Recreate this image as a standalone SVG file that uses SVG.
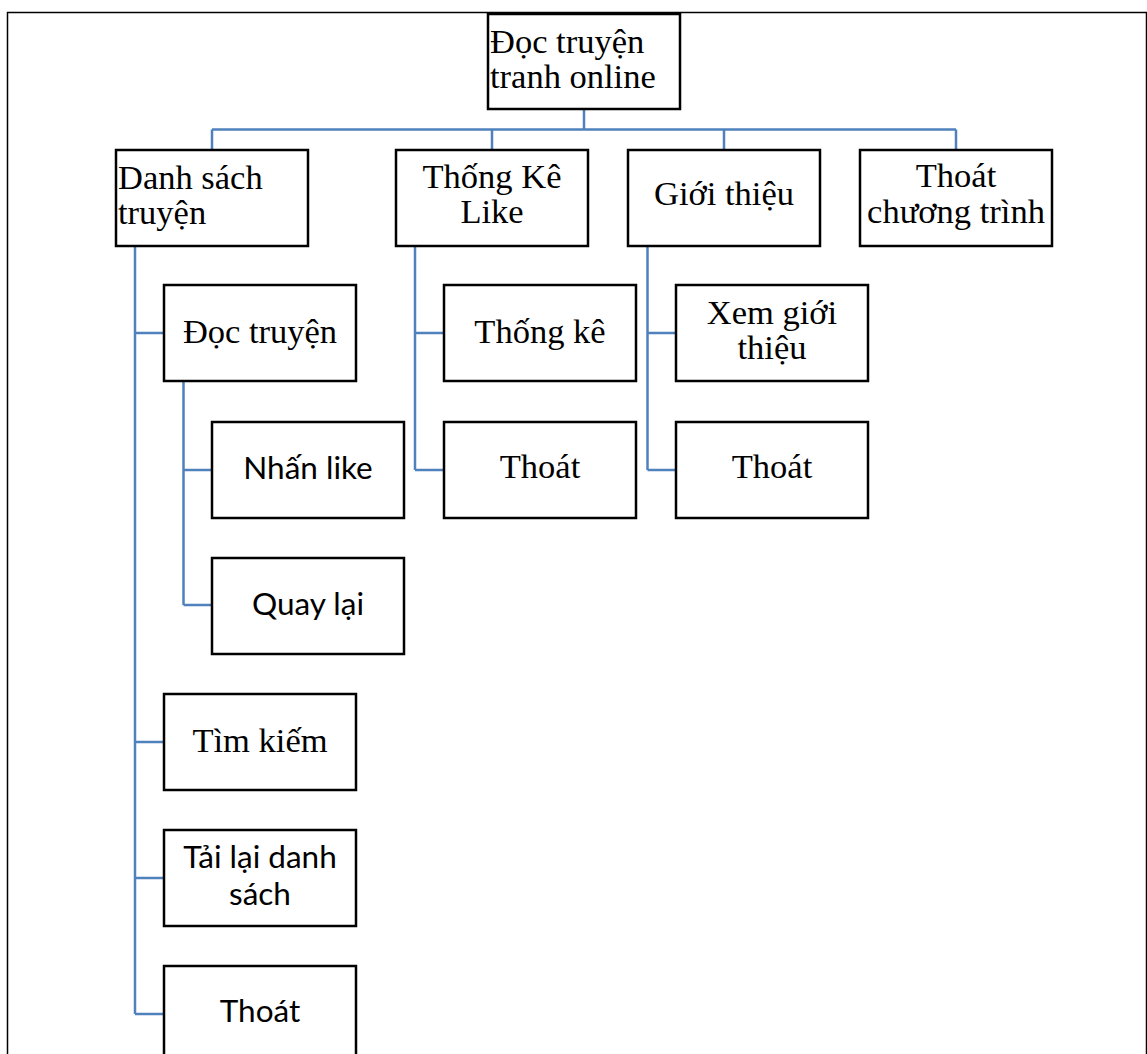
<svg xmlns="http://www.w3.org/2000/svg" width="1147" height="1054" viewBox="0 0 1147 1054">
<style>
.box{fill:#fff;stroke:#000;stroke-width:2.5}
.c{fill:none;stroke:#4F81BD;stroke-width:2.5}
.s{font-family:"Liberation Serif","Times New Roman",serif;font-size:34.5px;fill:#000}
.a{font-family:Lato,"Open Sans","Liberation Sans",sans-serif;font-size:31.5px;fill:#000}
.m{text-anchor:middle}
</style>
<rect x="7.5" y="12.5" width="1139" height="1060" fill="#fff" stroke="#000" stroke-width="1.5"/>
<g id="connectors">
<path class="c" d="M584 109V129.5M212 129.5H956M212 129.5V150M492 129.5V150M724 129.5V150M956 129.5V150"/>
<path class="c" d="M135 246V1014M135 333H164M135 742H164M135 878H164M135 1014H164"/>
<path class="c" d="M183.5 381V605M183.5 470H212M183.5 605H212"/>
<path class="c" d="M415 246V470M415 333H444M415 470H444"/>
<path class="c" d="M647.5 246V470M647.5 333H676M647.5 470H676"/>
</g>
<g id="root"><rect class="box" x="488" y="14" width="192" height="95"/><text class="s" x="490" y="53">Đọc truyện</text><text class="s" x="490" y="88">tranh online</text></g>
<g id="danhsach"><rect class="box" x="116" y="150" width="192" height="96"/><text class="s" x="118" y="189">Danh sách</text><text class="s" x="118" y="224">truyện</text></g>
<g id="thongkelike"><rect class="box" x="396" y="150" width="192" height="96"/><text class="s m" x="492" y="188">Thống Kê</text><text class="s m" x="492" y="223">Like</text></g>
<g id="gioithieu"><rect class="box" x="628" y="150" width="192" height="96"/><text class="s m" x="724" y="205">Giới thiệu</text></g>
<g id="thoatct"><rect class="box" x="860" y="150" width="192" height="96"/><text class="s m" x="956" y="187">Thoát</text><text class="s m" x="956" y="223">chương trình</text></g>
<g id="doctruyen"><rect class="box" x="164" y="285" width="192" height="96"/><text class="s m" x="260" y="343">Đọc truyện</text></g>
<g id="nhanlike"><rect class="box" x="212" y="422" width="192" height="96"/><text class="a m" x="308" y="479">Nhấn like</text></g>
<g id="quaylai"><rect class="box" x="212" y="558" width="192" height="96"/><text class="a m" x="308" y="615">Quay lại</text></g>
<g id="timkiem"><rect class="box" x="164" y="694" width="192" height="96"/><text class="s m" x="260" y="752">Tìm kiếm</text></g>
<g id="tailai"><rect class="box" x="164" y="830" width="192" height="96"/><text class="a m" x="260" y="868">Tải lại danh</text><text class="a m" x="260" y="905">sách</text></g>
<g id="thoat1"><rect class="box" x="164" y="966" width="192" height="96"/><text class="a m" x="260" y="1022">Thoát</text></g>
<g id="thongke"><rect class="box" x="444" y="285" width="192" height="96"/><text class="s m" x="540" y="343">Thống kê</text></g>
<g id="thoat2"><rect class="box" x="444" y="422" width="192" height="96"/><text class="s m" x="540" y="478">Thoát</text></g>
<g id="xemgioithieu"><rect class="box" x="676" y="285" width="192" height="96"/><text class="s m" x="772" y="324">Xem giới</text><text class="s m" x="772" y="359">thiệu</text></g>
<g id="thoat3"><rect class="box" x="676" y="422" width="192" height="96"/><text class="s m" x="772" y="478">Thoát</text></g>
</svg>
